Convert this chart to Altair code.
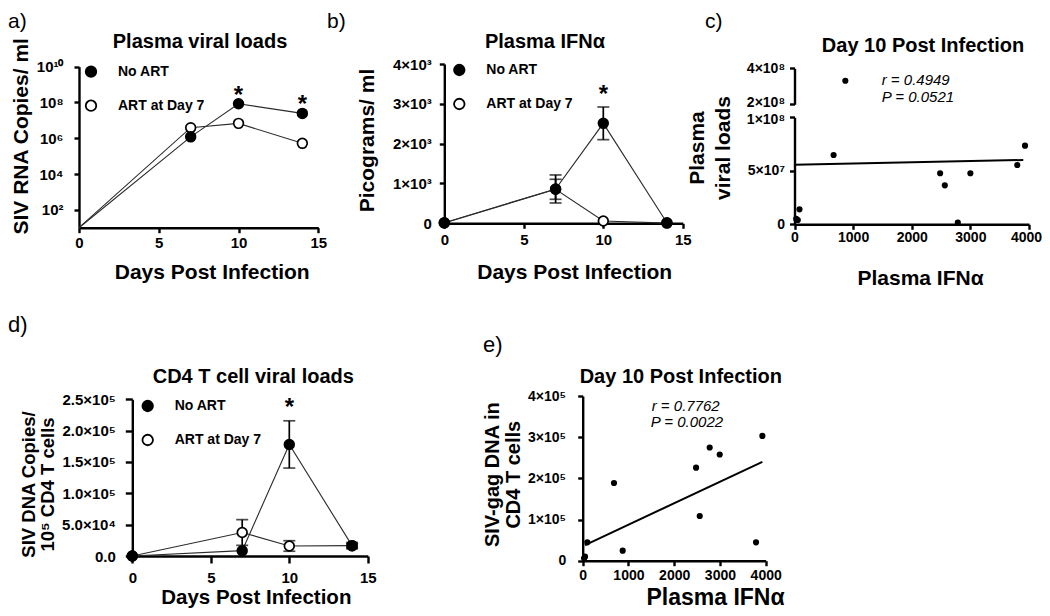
import altair as alt
import pandas as pd

# ------------------------------------------------------------------ data
days = [0, 7, 10, 14]
series = ["No ART", "ART at Day 7"]

# a) plasma viral loads (copies/ml)
a_no_art = [10, 1.2e6, 8.5e7, 2.45e7]
a_art = [10, 3.9e6, 6.8e6, 5.2e5]
a_star_days = [10, 14]

# b) plasma IFN-alpha (pg/ml), mean and SEM
b_no_art = [15, 862, 2510, 15]
b_no_art_sem = [0, 352, 410, 0]
b_art = [10, 854, 58, 5]
b_art_sem = [0, 251, 0, 0]
b_star_days = [10]

# c) day 10: plasma IFN-alpha vs plasma viral load
ifn_c = [29, 56, 85, 667, 867, 2484, 2564, 2786, 3000, 3800, 3932]
vl_c = [5e6, 4e6, 1.4e7, 6.48e7, 3.31e8, 4.77e7, 3.64e7, 1.5e6, 4.77e7, 5.54e7, 7.35e7]
c_fit_x = [0, 3902]
c_fit_y = [5.57e7, 6.01e7]
c_r, c_p = "0.4949", "0.0521"

# d) CD4 T cell viral loads, mean and SEM
d_no_art = [0, 8500, 178000, 16500]
d_no_art_sem = [0, 0, 37700, 5000]
d_art = [0, 37500, 16000, 16500]
d_art_sem = [0, 20500, 8400, 3000]
d_star_days = [10]

# e) day 10: plasma IFN-alpha vs SIV-gag DNA in CD4 T cells
ifn_e = [30, 50, 101, 684, 874, 2478, 2558, 2776, 2995, 3789, 3927]
dna_e = [6e3, 9.7e3, 4.47e4, 1.887e5, 2.43e4, 2.26e5, 1.085e5, 2.75e5, 2.58e5, 4.47e4, 3.03e5]
e_fit_x = [50, 3927]
e_fit_y = [3.8e4, 2.4e5]
e_r, e_p = "0.7762", "0.0022"

# tick values / labels
day_ticks = [0, 5, 10, 15]
ifn_ticks = [0, 1000, 2000, 3000, 4000]
a_y_ticks = [1e2, 1e4, 1e6, 1e8, 1e10]
a_y_labels = ["10²", "10⁴", "10⁶", "10⁸", "10¹⁰"]
b_y_ticks = [0, 1000, 2000, 3000, 4000]
b_y_labels = ["0", "1×10³", "2×10³", "3×10³", "4×10³"]
c_low_ticks = [0, 5e7, 1e8]
c_low_labels = ["0", "5×10⁷", "1×10⁸"]
c_up_ticks = [2e8, 4e8]
c_up_labels = ["2×10⁸", "4×10⁸"]
d_y_ticks = [0, 5e4, 1e5, 1.5e5, 2e5, 2.5e5]
d_y_labels = ["0.0", "5.0×10⁴", "1.0×10⁵", "1.5×10⁵", "2.0×10⁵", "2.5×10⁵"]
e_y_ticks = [0, 1e5, 2e5, 3e5, 4e5]
e_y_labels = ["0", "1×10⁵", "2×10⁵", "3×10⁵", "4×10⁵"]

# ------------------------------------------------------------------ style
FONT = "Liberation Sans"
W, H = 1034, 600
LINE = "#2b2b2b"


def label_expr(values, labels):
    expr = "''"
    for v, l in reversed(list(zip(values, labels))):
        expr = f"datum.value == {float(v)!r} ? '{l}' : ({expr})"
    return expr


def shift(value, px):
    return {"condition": {"test": f"datum.value == {float(value)!r}", "value": px}, "value": 0}


def x_axis(axis_y, values, title, tx, ty, pad, tick=5, fs=15, tfs=21, **extra):
    return alt.Axis(orient="bottom", offset=axis_y - H, values=values, format="d",
                    title=title, titleX=tx, titleY=ty, titleAlign="center",
                    titleBaseline="alphabetic", titleFontSize=tfs, titleAngle=0,
                    labelFontSize=fs, labelPadding=pad, tickSize=tick, **extra)


def y_axis(axis_x, values, labels, title, tx, ty, pad, tick=5, fs=15, tfs=21, lh=None, **extra):
    kw = dict(orient="left", offset=-axis_x, values=values,
              labelExpr=label_expr(values, labels), labelFontSize=fs,
              labelPadding=pad, tickSize=tick, **extra)
    if title is None:
        kw["title"] = None
    else:
        kw.update(title=title, titleX=tx, titleY=ty, titleAngle=270, titleAlign="center",
                  titleBaseline="alphabetic", titleFontSize=tfs)
        if lh:
            kw["titleLineHeight"] = lh
    return alt.Axis(**kw)


def legend(lx, ly):
    return alt.Legend(orient="none", legendX=lx, legendY=ly, title=None,
                      labelFont=FONT, labelFontSize=14, labelFontWeight="bold",
                      labelColor="black", symbolType="circle", symbolSize=110,
                      symbolStrokeWidth=1.8, symbolStrokeColor="black",
                      symbolOpacity=1, rowPadding=16, labelOffset=20, padding=0)


def build_long(no_art, art, no_sem, art_sem):
    rows = []
    for name, vals, sems in ((series[1], art, art_sem), (series[0], no_art, no_sem)):
        for d, v, s in zip(days, vals, sems):
            rows.append({"day": d, "value": v, "series": name,
                         "lo": v - s, "hi": v + s, "err": s})
    return pd.DataFrame(rows)


def time_panel(df, xsc, xax, ysc, yax, leg, star_days, star_dy, point_filter=None):
    X = alt.X("day:Q", scale=xsc, axis=xax)
    Y = alt.Y("value:Q", scale=ysc, axis=yax)
    base = alt.Chart(df)
    layers = [base.mark_line(color=LINE, strokeWidth=1.1).encode(x=X, y=Y, detail="series:N")]
    err = df[df["err"] > 0]
    if len(err):
        layers.append(alt.Chart(err).mark_rule(color="black", strokeWidth=1.7).encode(
            x=X, y=alt.Y("lo:Q", scale=ysc, axis=yax), y2="hi:Q"))
        caps = pd.concat([err[["day", "series"]].assign(value=err["lo"].values),
                          err[["day", "series"]].assign(value=err["hi"].values)])
        layers.append(alt.Chart(caps).mark_tick(orient="horizontal", size=12, thickness=1.7,
                                                color="black").encode(x=X, y=Y))
    pb = base.transform_filter(point_filter) if point_filter else base
    layers.append(pb.mark_circle(size=95, stroke="black", strokeWidth=1.7, opacity=1).encode(
        x=X, y=Y,
        fill=alt.Fill("series:N", scale=alt.Scale(domain=series, range=["black", "white"]),
                      legend=leg)))
    top = df[df["series"] == series[0]].set_index("day")
    sdf = pd.DataFrame({"day": star_days, "value": [top.loc[d, "hi"] for d in star_days]})
    layers.append(alt.Chart(sdf).mark_text(text="*", font=FONT, fontSize=24, fontWeight="bold",
                                           baseline="alphabetic", dy=star_dy, color="black")
                  .encode(x=X, y=Y))
    return alt.layer(*layers)


def label(txt, x, y, size, weight="bold", style="normal", align="left"):
    return alt.Chart(pd.DataFrame({"t": [txt]})).mark_text(
        font=FONT, fontSize=size, fontWeight=weight, fontStyle=style, align=align,
        baseline="alphabetic", color="black").encode(x=alt.value(x), y=alt.value(y), text="t:N")


# ------------------------------------------------------------------ panel a
df_a = build_long(a_no_art, a_art, [0] * 4, [0] * 4)
xa = x_axis(219.7, day_ticks, "Days Post Infection", 203.7, 50.6, 3)
ya = y_axis(71, a_y_ticks, a_y_labels, "SIV RNA Copies/ ml", -52, 127.8, 11)
panel_a = time_panel(df_a, alt.Scale(domain=[0, 15], range=[71, 310.3], nice=False), xa,
                     alt.Scale(type="log", domain=[10, 1e10], range=[219.7, 58.7], nice=False), ya,
                     legend(76, 56.7), a_star_days, -1, point_filter="datum.day > 0")

# ------------------------------------------------------------------ panel b
df_b = build_long(b_no_art, b_art, b_no_art_sem, b_art_sem)
xb = x_axis(215.3, day_ticks, "Days Post Infection", 566.2, 55, 4)
yb = y_axis(436.3, b_y_ticks, b_y_labels, "Picograms/ ml", -71, 132, 8)
panel_b = time_panel(df_b, alt.Scale(domain=[0, 15], range=[436.3, 674.8], nice=False), xb,
                     alt.Scale(domain=[0, 4000], range=[215.3, 56], nice=False), yb,
                     legend(444.3, 55), b_star_days, -5.5)

# ------------------------------------------------------------------ panel c (broken axis)
df_c = pd.DataFrame({"ifn": ifn_c, "vl": vl_c})
fit_c = pd.DataFrame({"ifn": c_fit_x, "vl": c_fit_y})
xsc_c = alt.Scale(domain=[0, 4000], range=[786.5, 1021], nice=False)
xc = x_axis(216.3, ifn_ticks, "Plasma IFNα", 912, 59.7, 1.5, fs=14,
            labelOffset=shift(ifn_ticks[-1], -3))
yc_low = y_axis(786.5, c_low_ticks, c_low_labels, ["Plasma", "viral loads"], -91.2, 139.5, 5,
                fs=14, lh=26.7, labelOffset=shift(c_low_ticks[-1], 2))
yc_up = y_axis(786.5, c_up_ticks, c_up_labels, None, 0, 0, 5, fs=14,
               labelOffset=shift(c_up_ticks[0], -1.5))
Xc = alt.X("ifn:Q", scale=xsc_c, axis=xc)
Yc_low = alt.Y("vl:Q", scale=alt.Scale(domain=[0, 1e8], range=[216.3, 109.3], nice=False), axis=yc_low)
panel_c_low = alt.layer(
    alt.Chart(fit_c).mark_line(color="black", strokeWidth=2).encode(x=Xc, y=Yc_low),
    alt.Chart(df_c).transform_filter("datum.vl <= 1e8").mark_circle(size=38, color="black", opacity=1)
    .encode(x=Xc, y=Yc_low),
)
panel_c_up = alt.Chart(df_c).transform_filter("datum.vl >= 2e8").mark_circle(
    size=38, color="black", opacity=1).encode(
    x=alt.X("ifn:Q", scale=xsc_c, axis=None),
    y=alt.Y("vl:Q", scale=alt.Scale(domain=[2e8, 4e8], range=[96.3, 60.3], nice=False), axis=yc_up))

# ------------------------------------------------------------------ panel d
df_d = build_long(d_no_art, d_art, d_no_art_sem, d_art_sem)
xd = x_axis(548, day_ticks, "Days Post Infection", 247.8, 47, 7, tick=7, fs=15, tfs=20.5)
yd = y_axis(124.3, d_y_ticks, d_y_labels, ["SIV DNA Copies/", "10⁵ CD4 T cells"], -97.8, 476, 10,
            tick=7, fs=15, tfs=18.5, lh=19)
panel_d = time_panel(df_d, alt.Scale(domain=[0, 15], range=[124.3, 359.8], nice=False), xd,
                     alt.Scale(domain=[0, 2.5e5], range=[548, 391.3], nice=False), yd,
                     legend(132.7, 391), d_star_days, -5.5)

# ------------------------------------------------------------------ panel e
df_e = pd.DataFrame({"ifn": ifn_e, "dna": dna_e})
fit_e = pd.DataFrame({"ifn": e_fit_x, "dna": e_fit_y})
xe = x_axis(552.7, ifn_ticks, "Plasma IFNα", 707, 43.3, 3, fs=14, tfs=23)
ye = y_axis(574.7, e_y_ticks, e_y_labels, ["SIV-gag DNA in", "CD4 T cells"], -84.4, 466.2, 12,
            fs=14, tfs=20, lh=21.7)
Xe = alt.X("ifn:Q", scale=alt.Scale(domain=[0, 4000], range=[574.7, 757.7], nice=False), axis=xe)
Ye = alt.Y("dna:Q", scale=alt.Scale(domain=[0, 4e5], range=[552.7, 388], nice=False), axis=ye)
panel_e = alt.layer(
    alt.Chart(fit_e).mark_line(color="black", strokeWidth=2).encode(x=Xe, y=Ye),
    alt.Chart(df_e).mark_circle(size=38, color="black", opacity=1).encode(x=Xe, y=Ye),
)

# ------------------------------------------------------------------ text
texts = [
    label("a)", 0, 20, 21, weight="normal"),
    label("b)", 319, 20, 21, weight="normal"),
    label("c)", 697, 20, 21, weight="normal"),
    label("d)", 0, 323.5, 22, weight="normal"),
    label("e)", 475, 343.5, 22, weight="normal"),
    label("Plasma viral loads", 192, 40.3, 20, align="center"),
    label("Plasma IFNα", 537, 40.3, 20, align="center"),
    label("Day 10 Post Infection", 915, 43.7, 20, align="center"),
    label("CD4 T cell viral loads", 245.3, 375.3, 20, align="center"),
    label("Day 10 Post Infection", 672.8, 375.3, 20, align="center"),
    label(f"r = {c_r}", 873.7, 77, 15, weight="normal", style="italic"),
    label(f"P = {c_p}", 873.7, 93.7, 15, weight="normal", style="italic"),
    label(f"r = {e_r}", 643.7, 402.7, 15, weight="normal", style="italic"),
    label(f"P = {e_p}", 642.7, 419.3, 15, weight="normal", style="italic"),
]

chart = alt.layer(panel_a, panel_b, panel_c_low, panel_c_up, panel_d, panel_e, *texts).resolve_scale(
    x="independent", y="independent", fill="independent"
).resolve_legend(fill="independent").properties(
    width=W, height=H, autosize=alt.AutoSizeParams(type="none"), padding=0
).configure(font=FONT).configure_view(stroke=None).configure_axis(
    domainColor="black", domainWidth=2.4, tickColor="black", tickWidth=2.4,
    labelColor="black", titleColor="black", labelFont=FONT, titleFont=FONT,
    labelFontWeight="bold", titleFontWeight="bold", grid=False,
    labelFlush=False, labelOverlap=False,
)

chart.save("out.html", embed_options={"renderer": "svg", "actions": False})
